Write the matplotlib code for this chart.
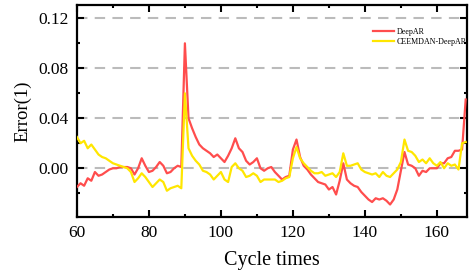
import numpy as np
import matplotlib.pyplot as plt
from matplotlib.ticker import MultipleLocator

cycles = np.arange(60, 169)

deepar = [
    -0.015, -0.012, -0.014, -0.008, -0.010, -0.003, -0.006, -0.005, -0.003, -0.001,  # 60-69
    0.000, 0.000, 0.001, 0.001, 0.001, 0.000, -0.005, 0.000, 0.008, 0.002,          # 70-79
    -0.003, -0.002, 0.001, 0.005, 0.002, -0.004, -0.003, 0.000, 0.002, 0.001,       # 80-89
    0.100, 0.040, 0.032, 0.025, 0.019, 0.016, 0.014, 0.012, 0.009, 0.011,          # 90-99
    0.008, 0.005, 0.010, 0.016, 0.024, 0.016, 0.013, 0.006, 0.003, 0.005,          # 100-109
    0.008, 0.000, -0.002, 0.000, 0.001, -0.003, -0.006, -0.009, -0.007, -0.006,    # 110-119
    0.015, 0.023, 0.009, 0.002, -0.001, -0.005, -0.008, -0.011, -0.012, -0.013,    # 120-129
    -0.017, -0.015, -0.021, -0.010, 0.004, -0.009, -0.012, -0.014, -0.015, -0.019, # 130-139
    -0.022, -0.025, -0.027, -0.024, -0.025, -0.024, -0.026, -0.029, -0.025, -0.017, # 140-149
    -0.002, 0.013, 0.003, 0.002, 0.000, -0.006, -0.002, -0.003, 0.000, 0.000,      # 150-159
    0.000, 0.004, 0.004, 0.008, 0.009, 0.014, 0.014, 0.015, 0.055,                 # 160-168
]

ceemdan_deepar = [
    0.025, 0.020, 0.022, 0.016, 0.019, 0.015, 0.011, 0.009, 0.008, 0.006,          # 60-69
    0.004, 0.003, 0.002, 0.001, 0.000, -0.003, -0.011, -0.008, -0.004, -0.007,     # 70-79
    -0.011, -0.015, -0.012, -0.009, -0.011, -0.018, -0.016, -0.015, -0.014, -0.016, # 80-89
    0.060, 0.016, 0.010, 0.006, 0.003, -0.002, -0.003, -0.005, -0.009, -0.006,     # 90-99
    -0.003, -0.009, -0.011, 0.001, 0.004, 0.000, -0.002, -0.007, -0.006, -0.004,   # 100-109
    -0.006, -0.011, -0.009, -0.009, -0.009, -0.009, -0.011, -0.010, -0.008, -0.007, # 110-119
    0.008, 0.017, 0.008, 0.004, 0.001, -0.002, -0.004, -0.004, -0.003, -0.006,     # 120-129
    -0.005, -0.004, -0.007, -0.003, 0.012, 0.002, 0.002, 0.003, 0.004, -0.001,     # 130-139
    -0.003, -0.004, -0.005, -0.004, -0.007, -0.003, -0.006, -0.007, -0.004, -0.001, # 140-149
    0.005, 0.023, 0.014, 0.013, 0.010, 0.005, 0.007, 0.004, 0.008, 0.004,          # 150-159
    0.002, 0.005, 0.000, 0.004, 0.002, 0.003, -0.001, 0.020, 0.021,                # 160-168
]

plt.rcParams['font.family'] = ['Liberation Serif', 'DejaVu Serif']

fig = plt.figure(figsize=(4.69, 2.74), dpi=100)
ax = fig.add_axes([0.164, 0.208, 0.832, 0.774])

ax.plot(cycles, deepar, color="#ff4d4d", lw=1.6, label="DeepAR", zorder=3)
ax.plot(cycles, ceemdan_deepar, color="#ffe600", lw=1.6, label="CEEMDAN-DeepAR", zorder=3)

ax.set_xlim(60, 168.4)
ax.set_ylim(-0.039, 0.1307)
ax.xaxis.set_major_locator(MultipleLocator(20))
ax.xaxis.set_minor_locator(MultipleLocator(10))
ax.yaxis.set_minor_locator(MultipleLocator(0.02))
ax.set_yticks([0.0, 0.04, 0.08, 0.12])
ax.set_yticklabels(["0.00", "0.04", "0.08", "0.12"])

ax.grid(axis='y', which='major', color="#bbbbbb", linestyle=(0, (5, 3.5)), lw=1.5, zorder=1)
ax.tick_params(which='both', direction='in', top=True, right=True, labelsize=12.5, width=1.5)
ax.tick_params(which='major', length=5)
ax.tick_params(which='minor', length=2.5)
ax.tick_params(axis='y', pad=6)
ax.tick_params(axis='x', pad=6)
for s in ax.spines.values():
    s.set_linewidth(1.6)

ax.set_xlabel("Cycle times", fontsize=14.5, labelpad=7)
ax.set_ylabel("Error(1)", fontsize=13.5, labelpad=5)

ax.legend(loc='upper right', bbox_to_anchor=(1.0, 0.895), frameon=False, fontsize=5.8,
          handlelength=2.6, handletextpad=0.3, labelspacing=0.25, borderaxespad=0.0,
          borderpad=0.1)

plt.savefig("out.png", dpi=100)
